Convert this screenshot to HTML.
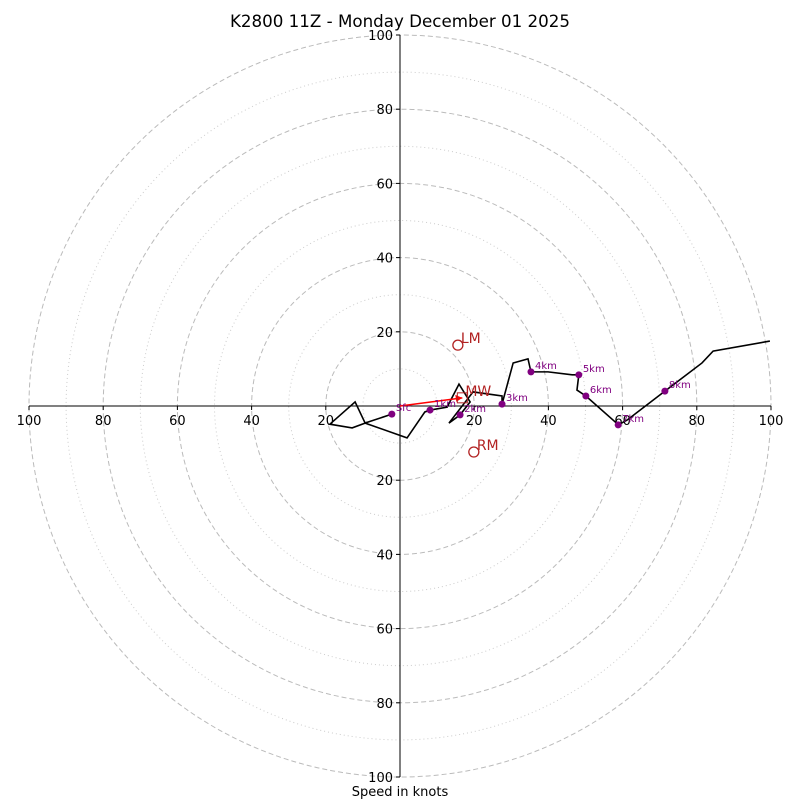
<!DOCTYPE html>
<html><head><meta charset="utf-8"><style>
html,body{margin:0;padding:0;background:#fff;}
svg{display:block;font-family:"DejaVu Sans","Liberation Sans",sans-serif;}
</style></head><body>
<svg id="chart" width="800" height="800" viewBox="0 0 800 800" xmlns="http://www.w3.org/2000/svg">
<text x="400" y="27" font-size="16.7" text-anchor="middle">K2800 11Z - Monday December 01 2025</text>
<text x="400" y="796" font-size="13" text-anchor="middle">Speed in knots</text>
<g id="rings"></g><g id="axes"></g><g id="marks"></g>
</svg>
<script>
const dashedRings = [20, 40, 60, 80, 100];
const dottedRings = [10, 30, 50, 70, 90];
const tickLabels = [20, 40, 60, 80, 100];
const windU = [-2.2,-9.4,-12.1,-18.9,-12.9,-9.4,1.9,6.7,8.1,12.7,15.9,18.9,16.2,13.2,19.7,27.5,27.5,30.5,34.5,35.3,39.9,46.4,48.2,47.7,50.1,58.0,58.8,61.2,71.4,81.4,84.4,99.7];
const windV = [-2.2,-4.6,1.1,-4.9,-5.9,-4.6,-8.6,-1.6,-1.1,-0.3,5.9,1.1,-2.4,-4.6,3.8,2.7,0.5,11.6,12.7,9.2,9.2,8.4,8.4,4.3,2.7,-4.3,-5.1,-3.8,4.0,11.6,14.8,17.5];
const heightLabels = ["Sfc","1km","2km","3km","4km","5km","6km","7km","8km"];
const heightIdx = [0,8,12,16,19,22,24,26,28];
const motionNames = ["LM","MW","RM"];
const motionU = [15.6,16.8,19.9];
const motionV = [16.4,2.2,-12.4];

const NS="http://www.w3.org/2000/svg";
const cx=400, cy=406, k=3.71;
const sx=u=>cx+u*k, sy=v=>cy-v*k;
function mk(tag,attrs,parent){const e=document.createElementNS(NS,tag);for(const a in attrs)e.setAttribute(a,attrs[a]);parent.appendChild(e);return e;}
const rings=document.getElementById('rings'), axes=document.getElementById('axes'), marks=document.getElementById('marks');
dashedRings.forEach(r=>{const c=mk('circle',{cx:cx,cy:cy,r:r*k,fill:'none',stroke:'#bbb','stroke-width':1,'stroke-dasharray':'5,3'},rings);

});
dottedRings.forEach(r=>{const c=mk('circle',{cx:cx,cy:cy,r:r*k,fill:'none',stroke:'#ccc','stroke-width':1,'stroke-dasharray':'1,3'},rings);

});
const xa=mk('line',{x1:sx(-100),y1:cy,x2:sx(100),y2:cy,stroke:'#000','stroke-width':1},axes);


const ya=mk('line',{x1:cx,y1:sy(100),x2:cx,y2:sy(-100),stroke:'#000','stroke-width':1},axes);


tickLabels.forEach(t=>{[1,-1].forEach(s=>{
 mk('line',{x1:sx(s*t),y1:cy,x2:sx(s*t),y2:cy+4,stroke:'#000'},axes);
 const tx=mk('text',{x:sx(s*t),y:cy+19,'font-size':13,'text-anchor':'middle'},axes);tx.textContent=t;
 
 
 mk('line',{x1:cx-4,y1:sy(s*t),x2:cx,y2:sy(s*t),stroke:'#000'},axes);
 const ty=mk('text',{x:cx-7,y:sy(s*t)+5,'font-size':13,'text-anchor':'end'},axes);ty.textContent=t;
 
 
});});
const pl=mk('polyline',{points:windU.map((u,i)=>sx(u)+','+sy(windV[i])).join(' '),fill:'none',stroke:'#000','stroke-width':1.6},marks);


const ar=mk('line',{x1:cx,y1:cy,x2:sx(motionU[1]),y2:sy(motionV[1]),stroke:'red','stroke-width':1.5},marks);


mk('polygon',{points:`${sx(motionU[1])},${sy(motionV[1])} ${sx(motionU[1])-7},${sy(motionV[1])-3} ${sx(motionU[1])-6},${sy(motionV[1])+4}`,fill:'red'},marks);
heightIdx.forEach((ix,j)=>{
 const d=mk('circle',{cx:sx(windU[ix]),cy:sy(windV[ix]),r:3.5,fill:'purple'},marks);
 
 
 const t=mk('text',{x:sx(windU[ix])+4,y:sy(windV[ix])-3,'font-size':10,fill:'purple'},marks);t.textContent=heightLabels[j];
 
 
});
motionNames.forEach((n,i)=>{
 const x=sx(motionU[i]), y=sy(motionV[i]);
 if(n==='MW'){const b=mk('rect',{x:x-5,y:y-5,width:10,height:10,fill:'none',stroke:'#b22222'},marks);
  
  }
 else{const c=mk('circle',{cx:x,cy:y,r:5,fill:'none',stroke:'#b22222','stroke-width':1.3},marks);
  
  }
 const t=mk('text',{x:x+3,y:y-2,'font-size':14,fill:'#b22222'},marks);t.textContent=n;
 
 
});
</script>
</body></html>
